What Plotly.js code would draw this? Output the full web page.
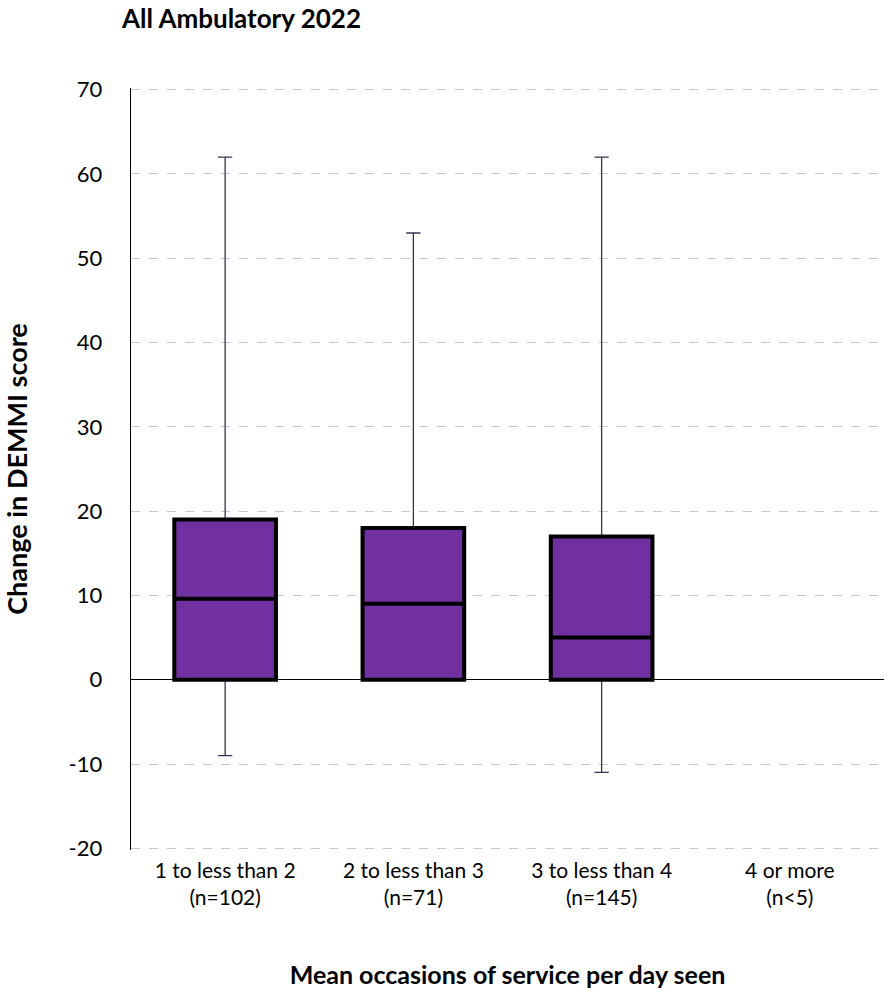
<!DOCTYPE html>
<html>
<head>
<meta charset="utf-8">
<script src="https://cdn.plot.ly/plotly-3.0.1.min.js"></script>
<style>html,body{margin:0;padding:0;background:#fff;}#chart{width:893px;height:994px;}</style>
</head>
<body>
<div id="chart"></div>
<script>
const categories = ["1 to less than 2", "2 to less than 3", "3 to less than 4", "4 or more"];
const nLabels = ["(n=102)", "(n=71)", "(n=145)", "(n<5)"];
// statistics for categories with data (4 or more suppressed, n<5)
const boxCats = ["1 to less than 2", "2 to less than 3", "3 to less than 4"];
const minVals = [-9, 0, -11];
const q1Vals = [0, 0, 0];
const medianVals = [9.6, 9, 5];
const q3Vals = [19, 18, 17];
const maxVals = [62, 53, 62];
const yTicks = [-20, -10, 0, 10, 20, 30, 40, 50, 60, 70];

const FONT = "Lato, 'Open Sans', sans-serif";

const whiskers = {
  type: "box", x: boxCats, q1: q1Vals, median: medianVals, q3: q3Vals,
  lowerfence: minVals, upperfence: maxVals,
  width: 0.54, whiskerwidth: 0.14,
  line: {color: "#3f3151", width: 1.3},
  fillcolor: "rgba(0,0,0,0)",
  boxpoints: false, hoverinfo: "skip", showlegend: false
};
const boxes = {
  type: "box", x: boxCats, q1: q1Vals, median: medianVals, q3: q3Vals,
  lowerfence: q1Vals, upperfence: q3Vals,
  width: 0.54, whiskerwidth: 0,
  line: {color: "#000000", width: 4},
  fillcolor: "#7030A0",
  boxpoints: false, hoverinfo: "skip", showlegend: false
};

const layout = {
  width: 893, height: 994,
  margin: {l: 131, r: 9, t: 88, b: 144},
  paper_bgcolor: "#fff", plot_bgcolor: "#fff",
  font: {family: FONT, color: "#000", size: 21},
  boxmode: "overlay",
  title: {
    text: "<b>All Ambulatory 2022</b>",
    font: {family: FONT, size: 26, color: "#000"},
    xref: "container", yref: "container",
    x: 122/893, xanchor: "left", y: 1 - 19/994, yanchor: "middle"
  },
  xaxis: {
    type: "category",
    categoryorder: "array", categoryarray: categories,
    tickvals: categories,
    ticktext: categories.map((c, i) => c + "<br>" + nLabels[i]),
    range: [-0.5, 3.5],
    showgrid: false, zeroline: false, showline: false, ticks: "",
    ticklabelstandoff: 6,
    tickfont: {family: FONT, size: 21, color: "#000"},
    title: {text: "<b>Mean occasions of service per day seen</b>",
            font: {family: FONT, size: 25, color: "#000"}, standoff: 58},
    automargin: false
  },
  yaxis: {
    range: [-20.2, 70.2], tickvals: yTicks,
    ticktext: yTicks.map(v => String(v)),
    showgrid: true, gridcolor: "#c8c8c8", griddash: "dash", gridwidth: 1,
    zeroline: true, zerolinecolor: "#000", zerolinewidth: 1,
    showline: true, linecolor: "#000", linewidth: 1.3,
    ticks: "", ticklabelstandoff: 23,
    tickfont: {family: FONT, size: 22, color: "#000"},
    title: {text: "<b>Change in DEMMI score</b>",
            font: {family: FONT, size: 27, color: "#000"}, standoff: 50},
    automargin: false
  }
};

Plotly.newPlot("chart", [whiskers, boxes], layout, {displayModeBar: false, staticPlot: true});
</script>
</body>
</html>
